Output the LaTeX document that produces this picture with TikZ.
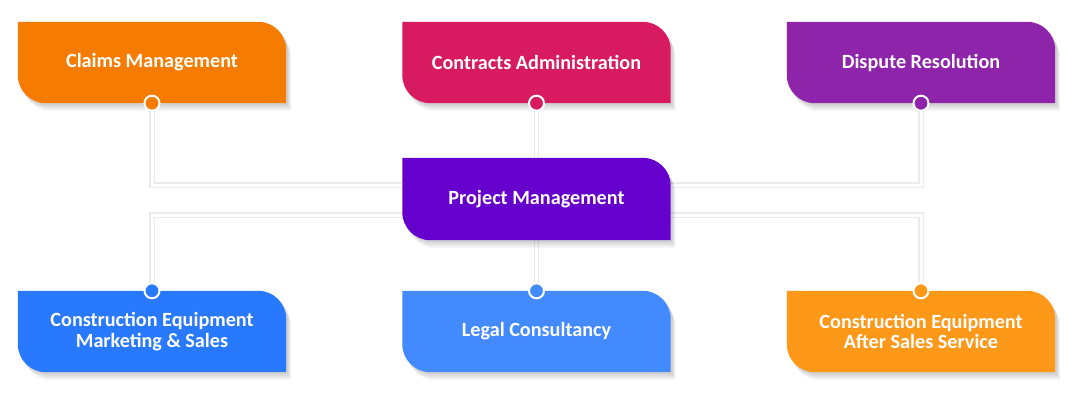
\documentclass[tikz,border=0pt]{standalone}
\usepackage{fontspec}
\setmainfont{Carlito}
\usetikzlibrary{calc}
\pgfdeclarelayer{bg}
\pgfsetlayers{bg,main}
\definecolor{cClaims}{RGB}{245,124,0}
\definecolor{cContr}{RGB}{216,27,96}
\definecolor{cDisp}{RGB}{142,36,170}
\definecolor{cProj}{RGB}{102,0,204}
\definecolor{cMark}{RGB}{41,121,255}
\definecolor{cLegal}{RGB}{68,138,255}
\definecolor{cAfter}{RGB}{253,152,25}
\newcommand\shp[3]{([shift={(#2,#3)}]#1.north west) -- ([shift={(#2-28,#3)}]#1.north east) arc[start angle=90,end angle=0,radius=28] -- ([shift={(#2,#3)}]#1.south east) -- ([shift={(#2+28,#3)}]#1.south west) arc[start angle=270,end angle=180,radius=28] -- cycle}
\newcommand\blob[2]{%
  \fill[black,opacity=.05] \shp{#1}{2}{-2};
  \fill[black,opacity=.05] \shp{#1}{3}{-4};
  \fill[black,opacity=.05] \shp{#1}{4}{-6};
  \fill[black,opacity=.04] \shp{#1}{5}{-8};
  \fill[#2] \shp{#1}{0}{0};}
\tikzset{
  card/.style={minimum width=268, minimum height=81, inner sep=0pt, text=white,
    align=center, font=\fontsize{20.2}{20.5}\selectfont\bfseries},
  dot/.style={circle, minimum size=15, inner sep=0pt, draw=white, line width=2pt},
  linkshadow/.style={line width=5.5, draw=black!8},
  link/.style={line width=3, draw=white},
}
\begin{document}
\begin{tikzpicture}[x=1pt,y=1pt]
\useasboundingbox (0,0) rectangle (1079,400);
\node[card] (claims) at (152,337.5) {Claims Management};
\node[card] (contr) at (536.5,337.5) {Contracts Administration};
\node[card] (disp) at (921,337.5) {Dispute Resolution};
\node[card, minimum height=82] (proj) at (536.5,201) {Project Management};
\node[card] (mark) at (152,68.5) {Construction Equipment\\Marketing \& Sales};
\node[card] (legal) at (536.5,68.5) {Legal Consultancy};
\node[card] (after) at (921,68.5) {Construction Equipment\\After Sales Service};
\begin{pgfonlayer}{bg}
  \fill[white] (0,0) rectangle (1079,400);
  \foreach \s in {linkshadow, link}{
    \begin{scope}[\s]
      \draw (claims.south) |- ([yshift=14]proj.west);
      \draw (disp.south) |- ([yshift=14]proj.east);
      \draw (contr.south) -- (proj.north);
      \draw (mark.north) |- ([yshift=-16]proj.center) -| (after.north);
      \draw (proj.south) -- (legal.north);
    \end{scope}
  }
  \blob{claims}{cClaims}
  \blob{contr}{cContr}
  \blob{disp}{cDisp}
  \blob{proj}{cProj}
  \blob{mark}{cMark}
  \blob{legal}{cLegal}
  \blob{after}{cAfter}
\end{pgfonlayer}
\node[dot, fill=cClaims] (d1) at (claims.south) {};
\node[dot, fill=cContr] (d2) at (contr.south) {};
\node[dot, fill=cDisp] (d3) at (disp.south) {};
\node[dot, fill=cMark] (d4) at (mark.north) {};
\node[dot, fill=cLegal] (d5) at (legal.north) {};
\node[dot, fill=cAfter] (d6) at (after.north) {};
\end{tikzpicture}
\end{document}
